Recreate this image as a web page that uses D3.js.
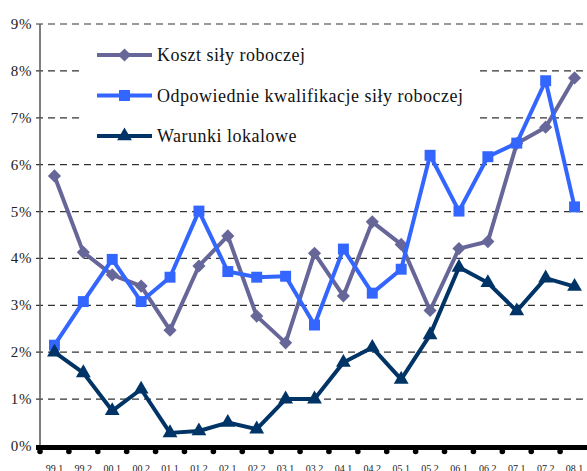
<!DOCTYPE html>
<html lang="pl">
<head>
<meta charset="UTF-8">
<title>Czynniki</title>
<style>
  html, body { margin: 0; padding: 0; background: #fff; }
  svg { display: block; }
</style>
</head>
<body>
<svg id="chart"></svg>
<script src="https://d3js.org/d3.v7.min.js"></script>
<script>
// dane
const periods = ["99.1","99.2","00.1","00.2","01.1","01.2","02.1","02.2","03.1","03.2",
                 "04.1","04.2","05.1","05.2","06.1","06.2","07.1","07.2","08.1"];
const kosztSily = [5.76, 4.13, 3.65, 3.41, 2.47, 3.84, 4.48, 2.77, 2.20, 4.11,
                   3.20, 4.78, 4.30, 2.89, 4.21, 4.36, 6.45, 6.80, 7.85];
const kwalifikacje = [2.15, 3.08, 3.98, 3.08, 3.60, 5.01, 3.72, 3.60, 3.62, 2.58,
                      4.20, 3.26, 3.77, 6.20, 5.01, 6.17, 6.46, 7.79, 5.10];
const warunki = [2.00, 1.56, 0.75, 1.21, 0.28, 0.32, 0.50, 0.36, 1.00, 1.00,
                 1.78, 2.10, 1.42, 2.37, 3.81, 3.48, 2.88, 3.58, 3.40];
const yTicks = [0, 1, 2, 3, 4, 5, 6, 7, 8, 9];

const series = [
  { name: "Koszt siły roboczej", values: kosztSily, color: "#666699", symbol: d3.symbolDiamond2, size: 110 },
  { name: "Odpowiednie kwalifikacje siły roboczej", values: kwalifikacje, color: "#3366ff", symbol: d3.symbolSquare, size: 120 },
  { name: "Warunki lokalowe", values: warunki, color: "#003366", symbol: d3.symbolTriangle, size: 95 }
];

const serif = "Liberation Serif, serif";
const width = 587, height = 471;
const svg = d3.select("#chart").attr("width", width).attr("height", height);

const x = d3.scaleBand().domain(periods).range([40, 589]);
const y = d3.scaleLinear().domain([0, 9]).range([446, 24]);

// siatka
svg.append("g").selectAll("line")
  .data(yTicks.filter(d => d > 0))
  .join("line")
  .attr("x1", 36).attr("x2", width)
  .attr("y1", d => y(d)).attr("y2", d => y(d))
  .attr("stroke", "#333")
  .attr("stroke-width", 1.2)
  .attr("stroke-dasharray", "7,5");

// etykiety osi Y
svg.append("g").selectAll("text")
  .data(yTicks)
  .join("text")
  .attr("x", 32)
  .attr("y", d => y(d) + 5)
  .attr("text-anchor", "end")
  .attr("font-family", serif)
  .attr("font-size", 15)
  .attr("letter-spacing", 0.6)
  .attr("fill", "#222")
  .text(d => d + "%");

// oś Y
svg.append("line")
  .attr("x1", 40).attr("x2", 40)
  .attr("y1", y(9)).attr("y2", y(0))
  .attr("stroke", "#555").attr("stroke-width", 1.5);

// tło legendy
svg.append("rect")
  .attr("x", 80).attr("y", 30)
  .attr("width", 397).attr("height", 120)
  .attr("fill", "#fff");

// oś X
svg.append("line")
  .attr("x1", 36).attr("x2", width)
  .attr("y1", 447.5).attr("y2", 447.5)
  .attr("stroke", "#000").attr("stroke-width", 5);

svg.append("g").selectAll("circle")
  .data(periods)
  .join("circle")
  .attr("cx", d => x(d))
  .attr("cy", 451.5)
  .attr("r", 2.8)
  .attr("fill", "#000");

svg.append("g").selectAll("text")
  .data(periods)
  .join("text")
  .attr("x", d => x(d) + x.bandwidth() / 2)
  .attr("y", 472)
  .attr("text-anchor", "middle")
  .attr("font-family", serif)
  .attr("font-size", 10)
  .attr("fill", "#222")
  .text(d => d);

// serie
const line = d3.line()
  .x((d, i) => x(periods[i]) + x.bandwidth() / 2)
  .y(d => y(d));

series.forEach(s => {
  const g = svg.append("g");
  g.append("path")
    .datum(s.values)
    .attr("d", line)
    .attr("fill", "none")
    .attr("stroke", s.color)
    .attr("stroke-width", 4)
    .attr("stroke-linejoin", "round");
  g.selectAll("path.m")
    .data(s.values)
    .join("path")
    .attr("class", "m")
    .attr("d", d3.symbol().type(s.symbol).size(s.size))
    .attr("transform", (d, i) => `translate(${x(periods[i]) + x.bandwidth() / 2},${y(d)})`)
    .attr("fill", s.color);
});

// legenda
const legend = svg.append("g")
  .selectAll("g")
  .data(series)
  .join("g")
  .attr("transform", (d, i) => `translate(97,${55 + i * 40.5})`);

legend.append("line")
  .attr("x1", 0).attr("x2", 55)
  .attr("stroke", d => d.color)
  .attr("stroke-width", 4);

legend.append("path")
  .attr("d", d => d3.symbol().type(d.symbol).size(d.size)())
  .attr("transform", "translate(27.5,0)")
  .attr("fill", d => d.color);

legend.append("text")
  .attr("x", 60)
  .attr("y", 6)
  .attr("font-family", serif)
  .attr("font-size", 18)
  .attr("letter-spacing", 0.5)
  .attr("fill", "#111")
  .text(d => d.name);
</script>
</body>
</html>
